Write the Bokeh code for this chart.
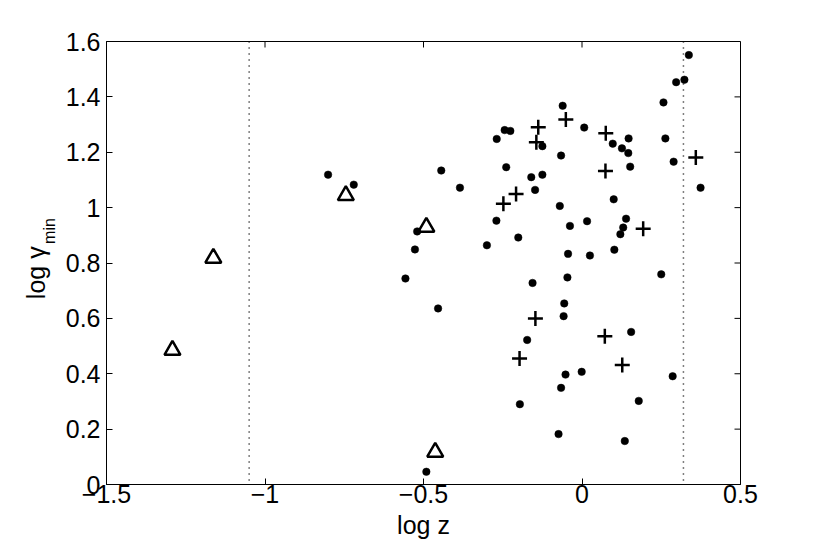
from bokeh.plotting import figure
from bokeh.models import Span, FixedTicker, LinearAxis
from bokeh.layouts import row
from bokeh.core.properties import value
from bokeh.embed import file_html
from bokeh.resources import INLINE
import math

# ---- data ----
dots_x = [-0.801, -0.720, -0.520, -0.527, -0.557,
          0.337, 0.297, 0.323, 0.257, -0.061, 0.007, -0.244, -0.226, -0.269, 0.147,
          -0.125, 0.097, 0.263, 0.126, 0.146, -0.066, 0.289, -0.444, -0.239, 0.152,
          -0.125, -0.160, -0.385, 0.374, -0.148, 0.100, -0.070, -0.270, -0.038, 0.016,
          0.139, 0.130, 0.121, -0.201, -0.300, -0.044, 0.025, 0.102,
          0.250, -0.046, -0.156, -0.454, -0.056, -0.058, 0.155, -0.173, -0.001, -0.052,
          0.286, -0.066, 0.179, -0.196, -0.074, 0.135, -0.491]
dots_y = [1.119, 1.083, 0.914, 0.849, 0.744,
          1.551, 1.453, 1.462, 1.380, 1.368, 1.289, 1.280, 1.277, 1.248, 1.250,
          1.222, 1.231, 1.250, 1.214, 1.197, 1.188, 1.166, 1.134, 1.146, 1.148,
          1.119, 1.110, 1.072, 1.072, 1.064, 1.030, 1.006, 0.953, 0.934, 0.951,
          0.960, 0.928, 0.904, 0.892, 0.864, 0.833, 0.827, 0.848,
          0.759, 0.748, 0.728, 0.636, 0.654, 0.608, 0.551, 0.522, 0.407, 0.397,
          0.391, 0.349, 0.302, 0.290, 0.182, 0.157, 0.046]

plus_x = [-0.051, -0.138, 0.075, -0.144, 0.359, 0.074, -0.208, -0.248, 0.193,
          -0.147, 0.072, -0.197, 0.127]
plus_y = [1.318, 1.290, 1.269, 1.236, 1.181, 1.132, 1.049, 1.014, 0.924,
          0.600, 0.535, 0.455, 0.432]

tri_x = [-1.292, -1.163, -0.745, -0.491, -0.463]
tri_y = [0.485, 0.818, 1.044, 0.930, 0.117]

vline_x = [-1.05, 0.32]

x_ticks = [-1.5, -1.0, -0.5, 0.0, 0.5]
x_tick_labels = ["\u22121.5", "\u22121", "\u22120.5", "0", "0.5"]
y_ticks = [0.0, 0.2, 0.4, 0.6, 0.8, 1.0, 1.2, 1.4, 1.6]
y_tick_labels = ["0", "0.2", "0.4", "0.6", "0.8", "1", "1.2", "1.4", "1.6"]

x_label = "log z"
y_label_main = "log \u03b3"
y_label_sub = "min"

FONT = "Liberation Sans"
FS = "25px"
H = 545
LW = 60  # width of the strip carrying the y label

p = figure(width=740, height=H, x_range=(-1.5, 0.5), y_range=(0, 1.6),
           output_backend="svg", toolbar_location=None,
           min_border_left=46, min_border_right=60, min_border_top=41, min_border_bottom=61)
p.grid.visible = False
p.outline_line_color = "black"
p.background_fill_color = "white"
p.border_fill_color = "white"

xa = p.xaxis[0]
ya = p.yaxis[0]
for ax, ticks, labels in ((xa, x_ticks, x_tick_labels), (ya, y_ticks, y_tick_labels)):
    ax.ticker = FixedTicker(ticks=ticks)
    ax.major_label_overrides = dict(zip(ticks, labels))
    ax.major_tick_in = 6
    ax.major_tick_out = 0
    ax.minor_tick_in = 0
    ax.minor_tick_out = 0
    ax.axis_line_color = "black"
    ax.major_tick_line_color = "black"
    ax.major_label_text_font = FONT
    ax.major_label_text_font_size = FS
    ax.major_label_text_color = "black"

xa.major_label_standoff = 0
ya.major_label_standoff = 6

# x label drawn as the single label of a second, line-less axis below the first one,
# centred on the middle of the x range, kept clear of the tick labels' boxes
x_label_pos = (x_ticks[0] + x_ticks[-1]) / 2
xlab_ax = LinearAxis(ticker=FixedTicker(ticks=[x_label_pos]),
                     major_label_overrides={x_label_pos: x_label},
                     axis_line_color=None, major_tick_line_color=None,
                     minor_tick_line_color=None, major_tick_in=0, major_tick_out=0,
                     minor_tick_in=0, minor_tick_out=0, major_label_standoff=5,
                     major_label_text_font=FONT, major_label_text_font_size=FS,
                     major_label_text_color="black")
p.add_layout(xlab_ax, "below")

# inward ticks on the top and right edges of the box
p.ray(x=x_ticks, y=[y_ticks[-1]] * len(x_ticks), length=6, length_units="screen",
      angle=-math.pi / 2, line_color="black", line_width=1)
p.ray(x=[x_ticks[-1]] * len(y_ticks), y=y_ticks, length=6, length_units="screen",
      angle=math.pi, line_color="black", line_width=1)

for xv in vline_x:
    p.add_layout(Span(location=xv, dimension="height", line_color="black",
                      line_width=1.5, line_dash="1 5"))

p.scatter(dots_x, dots_y, marker="circle", size=7.5, fill_color="black", line_color="black", line_width=0.5)
p.scatter(plus_x, plus_y, marker="cross", size=15, line_color="black", line_width=2.5)
p.scatter(tri_x, tri_y, marker="triangle", size=16, fill_color=None, line_color="black", line_width=2.5)

# narrow strip on the left that carries the rotated y label (with subscript)
q = figure(width=LW, height=H, x_range=(0, LW), y_range=(H, 0),
           output_backend="svg", toolbar_location=None, min_border=0,
           outline_line_color=None)
q.axis.visible = False
q.grid.visible = False
q.text(x=[35], y=[252], text=[y_label_main], angle=math.pi / 2,
       text_align="right", text_baseline="alphabetic",
       text_font=value(FONT), text_font_size=value(FS), text_color="black")
q.text(x=[49], y=[249], text=[y_label_sub], angle=math.pi / 2,
       text_align="left", text_baseline="alphabetic",
       text_font=value(FONT), text_font_size=value("16px"), text_color="black")

layout = row(q, p, spacing=0)
open("out.html", "w").write(file_html(layout, INLINE))
